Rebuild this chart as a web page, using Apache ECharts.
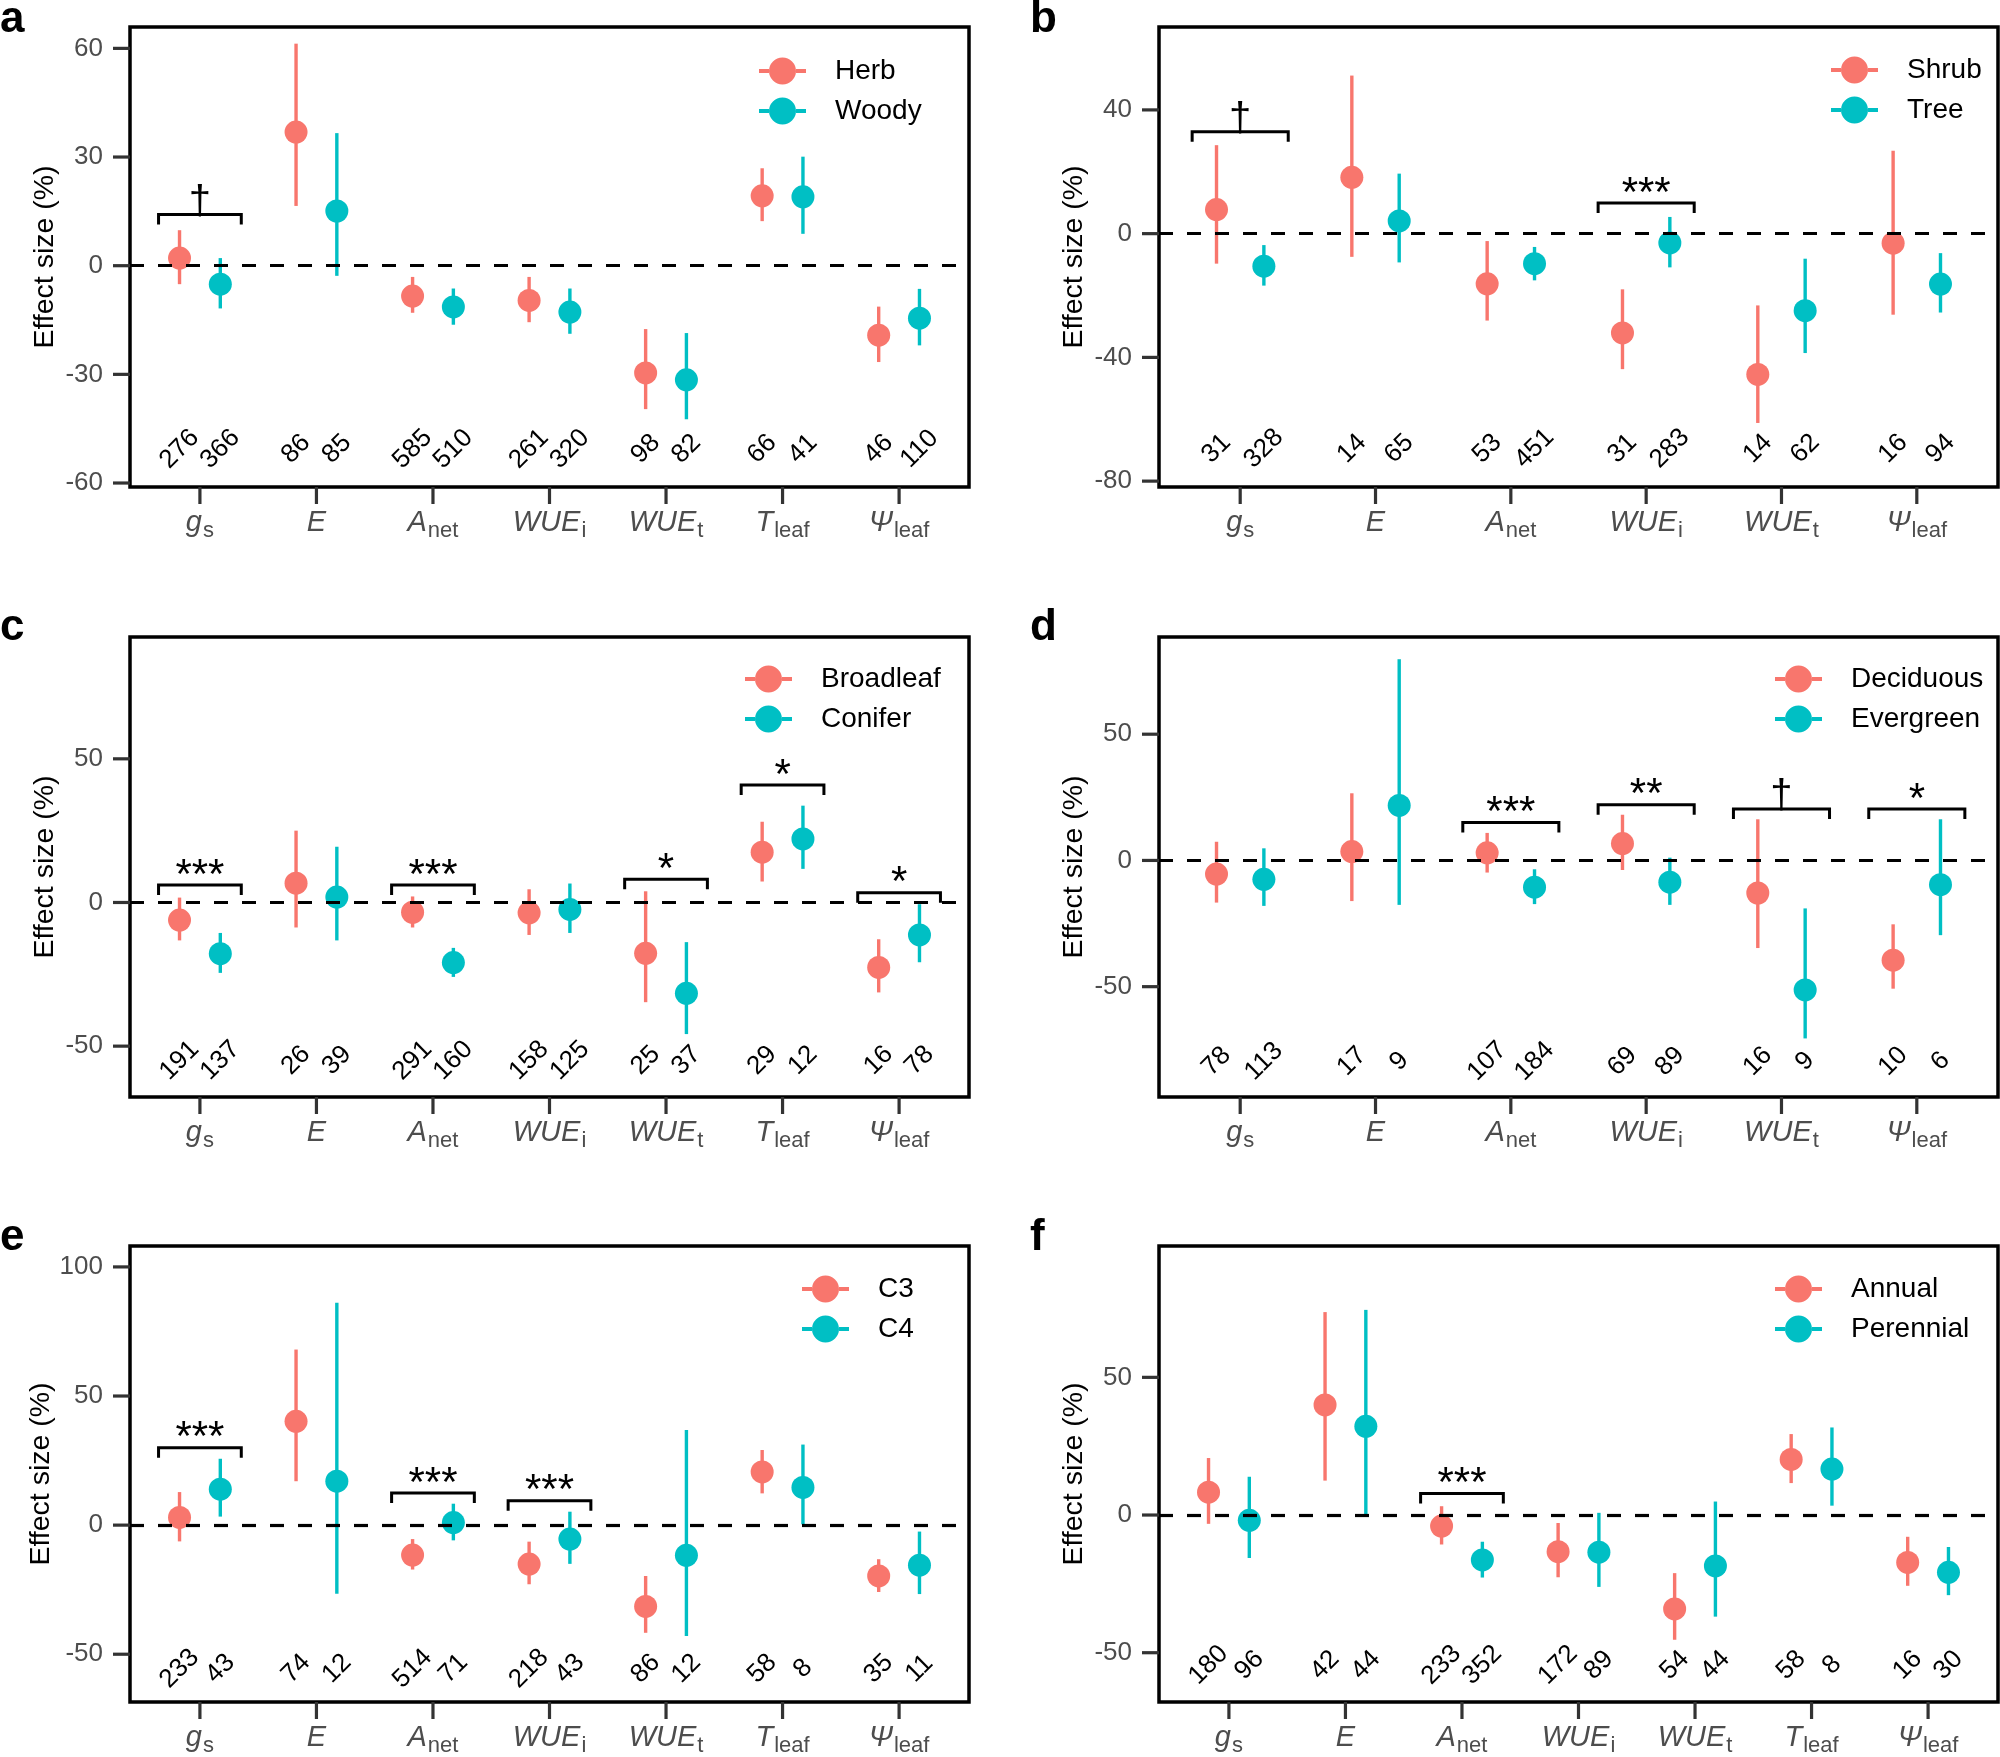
<!DOCTYPE html>
<html>
<head>
<meta charset="utf-8">
<script src="https://cdn.jsdelivr.net/npm/echarts@6/dist/echarts.min.js"></script>
<style>
html,body{margin:0;padding:0;background:#fff;}
#chart{width:2000px;height:1757px;}
</style>
</head>
<body>
<div id="chart"></div>
<script>
// ---------- DATA ----------
const cats7 = ['gs', 'E', 'Anet', 'WUEi', 'WUEt', 'Tleaf', 'Ψleaf'];
const cats6 = ['gs', 'E', 'Anet', 'WUEi', 'WUEt', 'Ψleaf'];

// Panel a: Herb vs Woody
const herbMean = [2.1, 36.9, -8.4, -9.6, -29.6, 19.3, -19.2];
const herbLow  = [-5.1, 16.5, -13.0, -15.6, -39.6, 12.3, -26.6];
const herbHigh = [9.8, 61.3, -3.1, -3.1, -17.5, 26.9, -11.3];
const herbN    = [276, 86, 585, 261, 98, 66, 46];
const woodyMean = [-5.1, 15.1, -11.4, -12.8, -31.5, 19.0, -14.5];
const woodyLow  = [-11.8, -2.8, -16.3, -18.8, -42.4, 8.8, -22.0];
const woodyHigh = [2.1, 36.6, -6.3, -6.3, -18.6, 30.1, -6.4];
const woodyN    = [366, 85, 510, 320, 82, 41, 110];
const sigA = [['gs', 14.1, '†']];
const ticksA = [-60, -30, 0, 30, 60];

// Panel b: Shrub vs Tree
const shrubMean = [7.8, 18.2, -16.2, -32.1, -45.5, -3.1];
const shrubLow  = [-9.7, -7.5, -28.1, -43.8, -61.2, -26.2];
const shrubHigh = [28.6, 51.1, -2.4, -18.0, -23.2, 26.8];
const shrubN    = [31, 14, 53, 31, 14, 16];
const treeMean = [-10.5, 4.1, -9.7, -3.0, -24.9, -16.3];
const treeLow  = [-16.8, -9.3, -15.1, -10.9, -38.6, -25.5];
const treeHigh = [-3.7, 19.4, -4.3, 5.4, -8.1, -6.3];
const treeN    = [328, 65, 451, 283, 62, 94];
const sigB = [['gs', 32.9, '†'], ['WUEi', 9.9, '***']];
const ticksB = [-80, -40, 0, 40];

// Panel c: Broadleaf vs Conifer
const broadMean = [-6.1, 6.7, -3.4, -3.6, -17.7, 17.5, -22.6];
const broadLow  = [-13.2, -8.7, -8.7, -11.3, -34.7, 7.3, -31.3];
const broadHigh = [1.7, 25.0, 2.1, 4.6, 3.9, 28.1, -12.8];
const broadN    = [191, 26, 291, 158, 25, 29, 16];
const coniferMean = [-17.8, 1.9, -20.9, -2.4, -31.6, 22.1, -11.3];
const coniferLow  = [-24.5, -13.2, -25.9, -10.6, -45.8, 11.7, -20.8];
const coniferHigh = [-10.6, 19.4, -15.8, 6.6, -13.8, 33.7, -0.6];
const coniferN    = [137, 39, 160, 125, 37, 12, 78];
const sigC = [['gs', 6.1, '***'], ['Anet', 6.1, '***'], ['WUEt', 8.1, '*'], ['Tleaf', 40.9, '*'], ['Ψleaf', 3.4, '*']];
const ticksC = [-50, 0, 50];

// Panel d: Deciduous vs Evergreen
const decidMean = [-5.4, 3.5, 3.0, 6.7, -12.9, -39.5];
const decidLow  = [-16.7, -16.1, -4.8, -3.8, -34.7, -50.8];
const decidHigh = [7.4, 26.6, 10.9, 18.1, 16.3, -25.3];
const decidN    = [78, 17, 107, 69, 16, 10];
const everMean = [-7.5, 21.8, -10.6, -8.6, -51.3, -9.6];
const everLow  = [-18.0, -17.6, -17.3, -17.6, -70.5, -29.6];
const everHigh = [4.8, 79.7, -3.5, 1.1, -19.0, 16.3];
const everN    = [113, 9, 184, 89, 9, 6];
const sigD = [['Anet', 15.0, '***'], ['WUEi', 22.1, '**'], ['WUEt', 20.4, '†'], ['Ψleaf', 20.4, '*']];
const ticksD = [-50, 0, 50];

// Panel e: C3 vs C4
const c3Mean = [3.0, 40.2, -11.6, -15.1, -31.5, 20.6, -19.7];
const c3Low  = [-6.3, 17.0, -17.2, -22.9, -41.7, 12.3, -25.9];
const c3High = [12.8, 68.0, -5.4, -6.4, -19.7, 29.1, -13.2];
const c3N    = [233, 74, 514, 218, 86, 58, 35];
const c4Mean = [13.9, 17.0, 1.0, -5.4, -11.7, 14.6, -15.5];
const c4Low  = [3.3, -26.6, -5.9, -15.0, -42.9, 0.3, -26.7];
const c4High = [25.7, 86.1, 8.3, 5.2, 36.8, 31.2, -2.5];
const c4N    = [43, 12, 71, 43, 12, 8, 11];
const sigE = [['gs', 30.0, '***'], ['Anet', 12.4, '***'], ['WUEi', 9.4, '***']];
const ticksE = [-50, 0, 50, 100];

// Panel f: Annual vs Perennial
const annualMean = [8.3, 40.0, -4.0, -13.3, -34.1, 20.2, -17.2];
const annualLow  = [-3.2, 12.5, -10.7, -22.6, -45.3, 11.6, -25.7];
const annualHigh = [20.7, 73.7, 3.2, -2.9, -21.1, 29.4, -7.9];
const annualN    = [180, 42, 233, 172, 54, 58, 16];
const perenMean = [-1.9, 32.2, -16.3, -13.5, -18.5, 16.7, -20.8];
const perenLow  = [-15.6, 0.0, -22.7, -26.1, -36.9, 3.4, -29.1];
const perenHigh = [13.9, 74.5, -9.7, 0.8, 4.9, 31.8, -11.6];
const perenN    = [96, 44, 352, 89, 44, 8, 30];
const sigF = [['Anet', 7.8, '***']];
const ticksF = [-50, 0, 50];

// ---------- STYLE / LAYOUT ----------
const FONT = '"Liberation Sans", Arial, Helvetica, sans-serif';
const RED = '#F8766D', TEAL = '#00BFC4';
const DODGE = 0.175, BR_HALF = 0.355;
const TICK_LEN = 17;
const colLeft = [130, 1159], colWidth = 839;
const rowTop = [27, 637, 1246], rowHeight = 460;

const panels = [
  {letter:'a', cats:cats7, names:['Herb','Woody'], g1:[herbMean,herbLow,herbHigh,herbN], g2:[woodyMean,woodyLow,woodyHigh,woodyN], sig:sigA, ticks:ticksA, yMin:-61.1, yMax:65.9, nY:-50.6, col:0, row:0, legLeft:759, legTop:57},
  {letter:'b', cats:cats6, names:['Shrub','Tree'], g1:[shrubMean,shrubLow,shrubHigh,shrubN], g2:[treeMean,treeLow,treeHigh,treeN], sig:sigB, ticks:ticksB, yMin:-81.9, yMax:66.8, nY:-69.5, col:1, row:0, legLeft:1831, legTop:56},
  {letter:'c', cats:cats7, names:['Broadleaf','Conifer'], g1:[broadMean,broadLow,broadHigh,broadN], g2:[coniferMean,coniferLow,coniferHigh,coniferN], sig:sigC, ticks:ticksC, yMin:-67.7, yMax:92.4, nY:-55.0, col:0, row:1, legLeft:745, legTop:665},
  {letter:'d', cats:cats6, names:['Deciduous','Evergreen'], g1:[decidMean,decidLow,decidHigh,decidN], g2:[everMean,everLow,everHigh,everN], sig:sigD, ticks:ticksD, yMin:-93.7, yMax:88.5, nY:-79.6, col:1, row:1, legLeft:1775, legTop:665},
  {letter:'e', cats:cats7, names:['C3','C4'], g1:[c3Mean,c3Low,c3High,c3N], g2:[c4Mean,c4Low,c4High,c4N], sig:sigE, ticks:ticksE, yMin:-68.5, yMax:108.1, nY:-55.6, col:0, row:2, legLeft:802, legTop:1275},
  {letter:'f', cats:cats7, names:['Annual','Perennial'], g1:[annualMean,annualLow,annualHigh,annualN], g2:[perenMean,perenLow,perenHigh,perenN], sig:sigF, ticks:ticksF, yMin:-67.9, yMax:97.7, nY:-54.5, col:1, row:2, legLeft:1775, legTop:1275}
];

function catRich(c) {
  switch (c) {
    case 'gs': return '{it|g}{sub|s}';
    case 'E': return '{it|E}';
    case 'Anet': return '{it|A}{sub|net}';
    case 'WUEi': return '{it|WUE}{sub|i}';
    case 'WUEt': return '{it|WUE}{sub|t}';
    case 'Tleaf': return '{it|T}{sub|leaf}';
    case 'Ψleaf': return '{it|Ψ}{sub|leaf}';
  }
  return c;
}

const legendIcon = 'path://M0,11.5L10,11.5L10,15.5L0,15.5Z M37,11.5L47,11.5L47,15.5L37,15.5Z M10,13.5a13.5,13.5 0 1,0 27,0a13.5,13.5 0 1,0 -27,0Z';

const grids = [], xAxes = [], yAxes = [], series = [], legends = [], graphics = [];

panels.forEach((p, idx) => {
  const nCat = p.cats.length;
  const xMin = 0.4, xMax = nCat + 0.6;
  const catTicks = p.cats.map((c, i) => i + 1);
  grids.push({left: colLeft[p.col], top: rowTop[p.row], width: colWidth, height: rowHeight,
    show: true, borderColor: '#000', borderWidth: 3.5, backgroundColor: 'transparent', containLabel: false});
  xAxes.push({gridIndex: idx, type: 'value', position: 'bottom', min: xMin, max: xMax,
    axisLine: {show: false, onZero: false}, splitLine: {show: false},
    axisTick: {show: false},
    axisLabel: {show: true, customValues: catTicks, margin: 17,
      formatter: v => catRich(p.cats[Math.round(v) - 1]),
      rich: {
        it: {fontFamily: FONT, fontStyle: 'italic', fontSize: 29, color: '#4D4D4D', lineHeight: 38},
        sub: {fontFamily: FONT, fontSize: 22, color: '#4D4D4D', lineHeight: 22, verticalAlign: 'bottom', padding: [0, 0, 0, 1]}
      }}
  });
  yAxes.push({gridIndex: idx, type: 'value', position: 'left', min: p.yMin, max: p.yMax,
    name: 'Effect size (%)', nameLocation: 'middle', nameRotate: 90, nameGap: 70,
    nameTextStyle: {fontFamily: FONT, fontSize: 28.5, color: '#000'},
    axisLine: {show: false, onZero: false}, splitLine: {show: false},
    axisTick: {show: false},
    axisLabel: {show: true, customValues: p.ticks, margin: 27, fontFamily: FONT, fontSize: 26, color: '#4D4D4D'}
  });

  // axis tick marks (drawn through the axes' scales)
  series.push({type: 'custom', xAxisIndex: idx, yAxisIndex: idx, z: 6, silent: true, clip: false,
    data: catTicks.map(v => [v, p.yMin]),
    renderItem: (params, api) => {
      const c = api.coord([api.value(0), api.value(1)]);
      return {type: 'line', shape: {x1: c[0], y1: c[1], x2: c[0], y2: c[1] + TICK_LEN},
        style: {stroke: '#333', lineWidth: 3.2}};
    }});
  series.push({type: 'custom', xAxisIndex: idx, yAxisIndex: idx, z: 6, silent: true, clip: false,
    data: p.ticks.map(v => [xMin, v]),
    renderItem: (params, api) => {
      const c = api.coord([api.value(0), api.value(1)]);
      return {type: 'line', shape: {x1: c[0] - TICK_LEN, y1: c[1], x2: c[0], y2: c[1]},
        style: {stroke: '#333', lineWidth: 3.2}};
    }});

  const groups = [[p.g1, -DODGE, RED, p.names[0]], [p.g2, DODGE, TEAL, p.names[1]]];
  groups.forEach(([g, off, color, name], gi) => {
    const [mean, lo, hi] = g;
    series.push({type: 'custom', xAxisIndex: idx, yAxisIndex: idx, z: 2, silent: true,
      data: mean.map((m, i) => [i + 1 + off, lo[i], hi[i]]),
      encode: {x: 0, y: [1, 2]},
      renderItem: (params, api) => {
        const a = api.coord([api.value(0), api.value(1)]);
        const b = api.coord([api.value(0), api.value(2)]);
        return {type: 'line', shape: {x1: a[0], y1: a[1], x2: b[0], y2: b[1]},
          style: {stroke: color, lineWidth: 3.4}};
      },
      markLine: gi === 0 ? {silent: true, symbol: ['none', 'none'], label: {show: false},
        lineStyle: {color: '#000', type: [14, 14], width: 3.2}, data: [{yAxis: 0}]} : undefined
    });
  });
  groups.forEach(([g, off, color, name]) => {
    const mean = g[0];
    series.push({type: 'scatter', name: name, xAxisIndex: idx, yAxisIndex: idx, z: 3,
      symbol: 'circle', symbolSize: 23, itemStyle: {color: color, opacity: 1},
      data: mean.map((m, i) => [i + 1 + off, m])});
  });
  // sample sizes
  groups.forEach(([g, off]) => {
    const n = g[3];
    series.push({type: 'custom', xAxisIndex: idx, yAxisIndex: idx, z: 4, silent: true,
      data: n.map((v, i) => [i + 1 + off, p.nY, v]),
      renderItem: (params, api) => {
        const c = api.coord([api.value(0), api.value(1)]);
        return {type: 'text', x: c[0], y: c[1], rotation: Math.PI / 4,
          style: {text: String(api.value(2)), font: '26px ' + FONT, fill: '#000',
            textAlign: 'center', textVerticalAlign: 'middle', align: 'center', verticalAlign: 'middle'}};
      }});
  });
  // significance brackets
  series.push({type: 'custom', xAxisIndex: idx, yAxisIndex: idx, z: 5, silent: true,
    data: p.sig.map(s => [p.cats.indexOf(s[0]) + 1, s[1]]),
    renderItem: (params, api) => {
      const x = api.value(0), y = api.value(1);
      const L = api.coord([x - BR_HALF, y]);
      const R = api.coord([x + BR_HALF, y]);
      const C = api.coord([x, y]);
      const txt = p.sig[params.dataIndex][2];
      const isDagger = txt === '†';
      return {type: 'group', children: [
        {type: 'polyline', shape: {points: [[L[0], L[1] + 10], [L[0], L[1]], [R[0], R[1]], [R[0], R[1] + 10]]},
          style: {stroke: '#000', lineWidth: 3, fill: 'none'}},
        {type: 'text', x: C[0], y: C[1] - (isDagger ? 12 : 9),
          style: {text: txt, font: (isDagger ? '40px ' : '42px ') + FONT, fill: '#000',
            textAlign: 'center', textVerticalAlign: 'middle', align: 'center', verticalAlign: 'middle'}}
      ]};
    }});

  legends.push({data: p.names, left: p.legLeft, top: p.legTop, orient: 'vertical', padding: 0,
    itemWidth: 47, itemHeight: 27, itemGap: 12, icon: legendIcon, selectedMode: false,
    textStyle: {fontFamily: FONT, fontSize: 28, color: '#000', padding: [0, 0, 0, 24]}});

  graphics.push({type: 'text', left: p.col === 0 ? 0 : 1030, top: [-2, 606, 1216][p.row],
    style: {text: p.letter, font: 'bold 44px ' + FONT, fill: '#000'}});
});

const chart = echarts.init(document.getElementById('chart'), null, {renderer: 'canvas'});
chart.setOption({
  animation: false,
  backgroundColor: '#fff',
  grid: grids, xAxis: xAxes, yAxis: yAxes, series: series, legend: legends, graphic: graphics
});
</script>
</body>
</html>
